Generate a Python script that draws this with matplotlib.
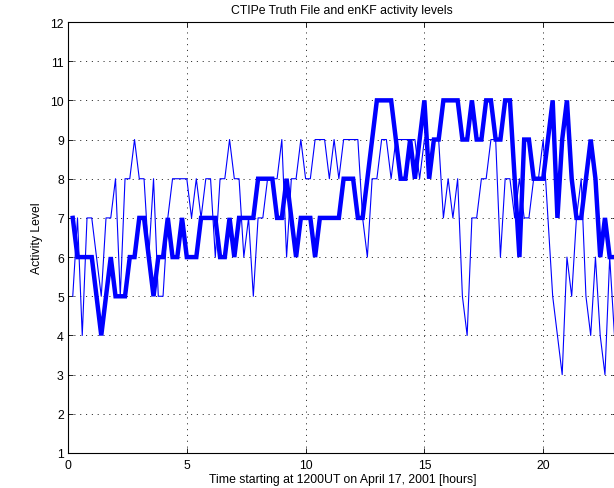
import numpy as np
import matplotlib
matplotlib.use('Agg')
import matplotlib.pyplot as plt

plt.rcParams['font.family'] = ['Liberation Sans', 'DejaVu Sans']
plt.rcParams['lines.scale_dashes'] = False

# time axis: one sample every 0.2 hours
hours = np.arange(1, 116) * 0.2

# thick line (enKF)
enkf = [7, 6, 6, 6, 6, 5, 4, 5, 6, 5,
        5, 5, 6, 6, 7, 7, 6, 5, 6, 6,
        7, 6, 6, 7, 6, 6, 6, 7, 7, 7,
        7, 6, 6, 7, 6, 7, 7, 7, 7, 8,
        8, 8, 8, 7, 7, 8, 7, 6, 7, 7,
        7, 6, 7, 7, 7, 7, 7, 8, 8, 8,
        7, 7, 8, 9, 10, 10, 10, 10, 9, 8,
        8, 9, 8, 9, 10, 8, 9, 9, 10, 10,
        10, 10, 9, 9, 10, 9, 9, 10, 10, 9,
        9, 10, 10, 8, 6, 9, 9, 8, 8, 8,
        9, 10, 7, 9, 10, 8, 7, 7, 8, 9,
        8, 6, 7, 6, 6]

# thin line (truth file)
truth = [5, 7, 4, 7, 7, 6, 5, 7, 7, 8,
         5, 8, 8, 9, 8, 8, 6, 8, 5, 5,
         7, 8, 8, 8, 8, 7, 8, 7, 8, 8,
         6, 8, 8, 9, 8, 8, 6, 7, 5, 7,
         7, 8, 8, 8, 9, 6, 8, 8, 9, 8,
         8, 9, 9, 9, 8, 9, 8, 9, 9, 9,
         9, 7, 6, 8, 8, 9, 9, 8, 9, 9,
         9, 9, 9, 8, 9, 9, 9, 9, 7, 8,
         7, 8, 5, 4, 7, 7, 8, 8, 9, 9,
         6, 8, 8, 7, 8, 7, 7, 8, 8, 9,
         7, 5, 4, 3, 6, 5, 7, 8, 5, 4,
         6, 4, 3, 6, 4]

x_ticks = [0, 5, 10, 15, 20]
y_ticks = list(range(1, 13))

fig = plt.figure(figsize=(6.14, 4.89), dpi=100)
# axes runs a little past the right edge, like the cropped original
ax = fig.add_axes([68 / 614, 35 / 489, 548.6 / 614, 431 / 489])

ax.plot(hours, truth, color=(0, 0, 1), lw=0.8)
ax.plot(hours, enkf, color=(0, 0, 1), lw=3.2, solid_joinstyle='miter')

ax.set_xlim(0, 23.09)
ax.set_ylim(1, 12)
ax.set_xticks(x_ticks)
ax.set_yticks(y_ticks)

# matlab style grid and ticks
ax.grid(True, color='0.2', lw=0.7, linestyle=(0, (0.8, 3.4)))
ax.tick_params(direction='in', top=True, right=True, length=3.5, width=0.6,
               labelsize=8.8, pad=3)
ax.tick_params(axis='x', pad=4)
for s in ax.spines.values():
    s.set_linewidth(0.8)

ax.set_xlabel('Time starting at 1200UT on April 17, 2001 [hours]', fontsize=8.8)
ax.xaxis.set_label_coords(0.5, -0.046)
ax.set_ylabel('Activity Level', fontsize=8.8)
ax.yaxis.set_label_coords(-0.046, 0.5)
ax.text(0.5, 1 + 9 / 431, 'CTIPe Truth File and enKF activity levels',
        transform=ax.transAxes, ha='center', va='baseline', fontsize=8.8)

fig.savefig('out.png', dpi=100)
